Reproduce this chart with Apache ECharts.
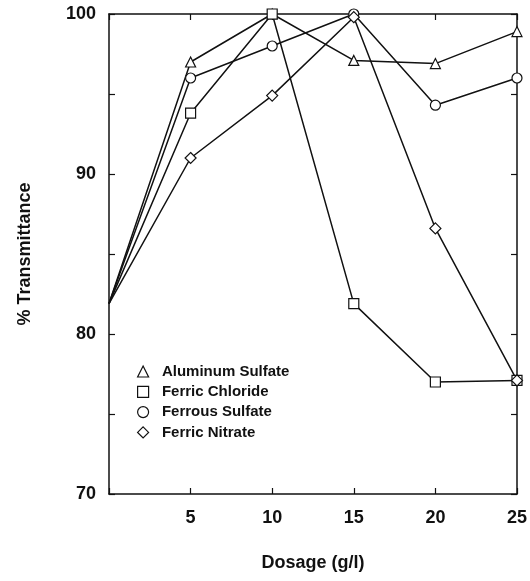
<!DOCTYPE html>
<html>
<head>
<meta charset="utf-8">
<title>Transmittance vs dosage</title>
<script src="https://cdn.jsdelivr.net/npm/echarts@6/dist/echarts.min.js"></script>
<style>
    html, body { margin: 0; padding: 0; background: #fff; }
    #chart { width: 530px; height: 581px; }
</style>
</head>
<body>
<div id="chart"></div>
<script>
    // values
    var dosage = [0, 5, 10, 15, 20, 25];
    var aluminumSulfate = [81.9, 97.0, 100, 97.1, 96.9, 98.9];
    var ferricChloride = [81.9, 93.8, 100, 81.9, 77.0, 77.1];
    var ferrousSulfate = [81.9, 96.0, 98.0, 100, 94.3, 96.0];
    var ferricNitrate = [81.9, 91.0, 94.9, 99.8, 86.6, 77.1];
    var seriesNames = ['Aluminum Sulfate', 'Ferric Chloride', 'Ferrous Sulfate', 'Ferric Nitrate'];
    var symbols = ['triangle', 'rect', 'circle', 'diamond'];
    var xTicks = [5, 10, 15, 20, 25];
    var yTicks = [70, 80, 90, 100];

    var ink = '#111';
    var font = '"Liberation Sans", Arial, sans-serif';

    function pairs(vals) {
        return dosage.map(function (d, i) {
            // no marker at the common starting point
            return i === 0 ? { value: [d, vals[i]], symbol: 'none' } : [d, vals[i]];
        });
    }

    var allValues = [aluminumSulfate, ferricChloride, ferrousSulfate, ferricNitrate];
    var series = allValues.map(function (vals, k) {
        return {
            name: seriesNames[k],
            type: 'line',
            data: pairs(vals),
            symbol: symbols[k],
            symbolSize: k === 3 ? 11 : 10,
            showSymbol: true,
            lineStyle: { color: ink, width: 1.5 },
            itemStyle: { color: '#fff', borderColor: ink, borderWidth: 1.2 },
            emphasis: { disabled: true },
            animation: false
        };
    });

    // frame axes: ticks pointing inward, no labels
    var tick = { inside: true, length: 6, lineStyle: { color: ink, width: 1.2 } };
    var line = { show: true, onZero: false, lineStyle: { color: ink, width: 1.5 } };

    var chart = echarts.init(document.getElementById('chart'));
    chart.setOption({
        backgroundColor: '#fff',
        grid: { left: 109, right: 13, top: 14, bottom: 87 },
        legend: {
            orient: 'vertical',
            left: 132,
            top: 359,
            itemWidth: 11,
            itemHeight: 11,
            itemGap: 5.3,
            selectedMode: false,
            data: seriesNames.map(function (n, k) { return { name: n, icon: symbols[k] }; }),
            formatter: function (n) { return '  ' + n; },
            itemStyle: { color: '#fff', borderColor: ink, borderWidth: 1.2 },
            textStyle: { color: ink, fontFamily: font, fontWeight: 'bold', fontSize: 15, lineHeight: 14 }
        },
        xAxis: [{
            type: 'value',
            min: 0,
            max: 25,
            interval: 5,
            name: 'Dosage (g/l)',
            nameLocation: 'middle',
            nameGap: 60,
            nameTextStyle: { color: ink, fontFamily: font, fontWeight: 'bold', fontSize: 18 },
            axisLine: line,
            axisTick: tick,
            axisLabel: {
                margin: 15,
                color: ink, fontFamily: font, fontWeight: 'bold', fontSize: 18,
                formatter: function (v) { return xTicks.indexOf(v) >= 0 ? String(v) : ''; }
            },
            splitLine: { show: false }
        }, {
            type: 'value',
            position: 'top',
            min: 0,
            max: 25,
            interval: 5,
            axisLine: line,
            axisTick: tick,
            axisLabel: { show: false },
            splitLine: { show: false }
        }],
        yAxis: [{
            type: 'value',
            min: 70,
            max: 100,
            interval: 5,
            name: '% Transmittance',
            nameLocation: 'middle',
            nameGap: 75,
            nameTextStyle: { color: ink, fontFamily: font, fontWeight: 'bold', fontSize: 18 },
            axisLine: line,
            axisTick: tick,
            axisLabel: {
                margin: 13,
                color: ink, fontFamily: font, fontWeight: 'bold', fontSize: 18,
                formatter: function (v) { return yTicks.indexOf(v) >= 0 ? String(v) : ''; }
            },
            splitLine: { show: false }
        }, {
            type: 'value',
            position: 'right',
            min: 70,
            max: 100,
            interval: 5,
            axisLine: line,
            axisTick: tick,
            axisLabel: { show: false },
            splitLine: { show: false }
        }],
        series: series
    });
</script>
</body>
</html>
